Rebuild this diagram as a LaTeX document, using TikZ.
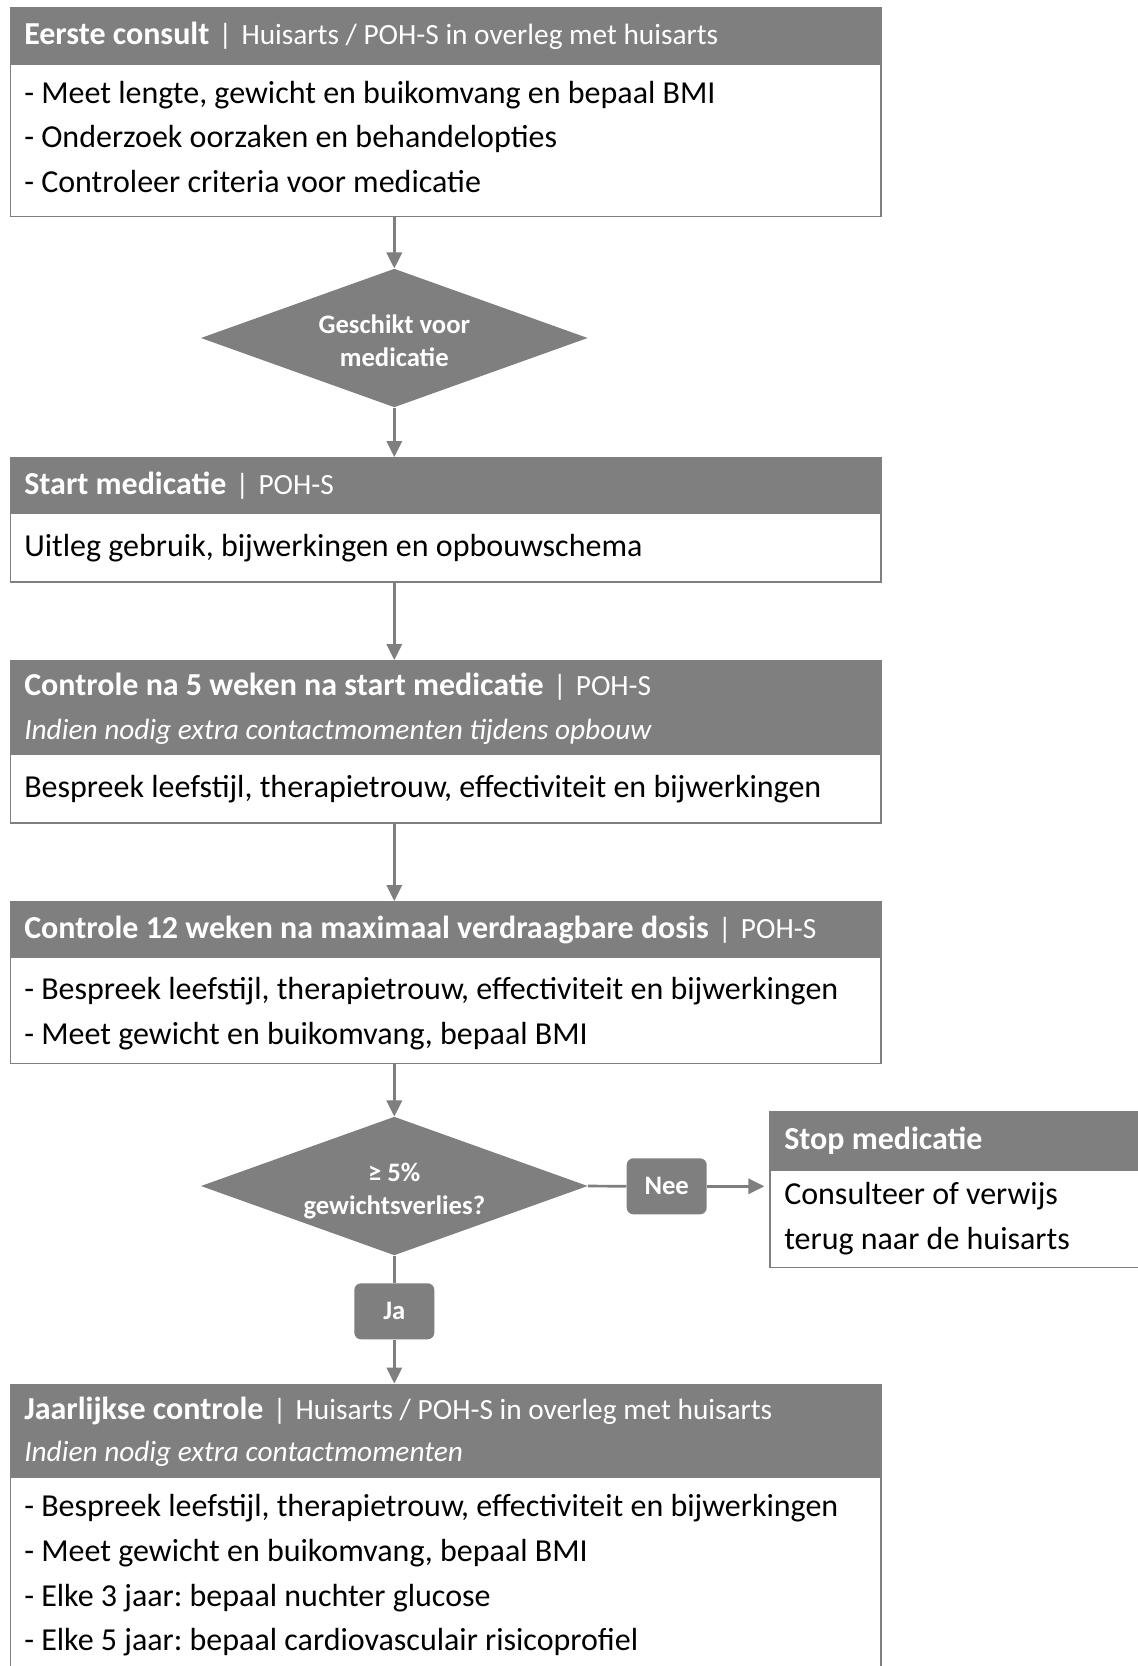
\documentclass[tikz,border=0pt]{standalone}
\usepackage{fontspec}
\setmainfont{Carlito}
\usetikzlibrary{arrows.meta,shapes.geometric}
\definecolor{fg}{HTML}{7F7F7F}
\frenchspacing
\tikzset{
 hdr/.style={draw=fg, fill=fg, line width=1.2pt, anchor=north west, inner sep=0, minimum width=652.8pt},
 bodybox/.style={draw=fg, fill=white, line width=1.2pt, anchor=north west, inner sep=0, minimum width=652.8pt},
 htxt/.style={anchor=base west, inner sep=0, yshift=-1.5pt, text=white, font=\bfseries\fontsize{24}{28}\selectfont},
 itxt/.style={anchor=base west, inner sep=0, yshift=-1.5pt, text=white, font=\itshape\fontsize{22}{26}\selectfont},
 btxt/.style={anchor=base west, inner sep=0, yshift=-1.5pt, text=black, font=\fontsize{24}{28}\selectfont},
 dia/.style={diamond, aspect=2.79, fill=fg, inner sep=0, minimum width=290.1pt, minimum height=103.9pt},
 dtxt/.style={inner sep=0, text=white, font=\bfseries\fontsize{20}{24.4}\selectfont, align=center},
 lbl/.style={rounded corners=5pt, fill=fg, inner sep=0, minimum width=60pt, minimum height=42pt, text=white, font=\bfseries\fontsize{20}{24}\selectfont},
 conn/.style={draw=fg, line width=2pt},
 arr/.style={conn, -{Triangle[length=12pt,width=11.5pt]}},
}
\newcommand\hreg[1]{{\mdseries\fontsize{22}{26}\selectfont\hspace{7pt}|\hspace{7pt}#1}}
\begin{document}
\begin{tikzpicture}[x=0.75pt,y=-0.75pt]
\useasboundingbox (0,0) rectangle (1138,1666);
\clip (0,0) rectangle (1138,1666);
\fill[white] (0,0) rectangle (1138,1666);

% Box 1
\node[bodybox, minimum height=114.2pt] (b1) at (9.6,63.5) {};
\node[hdr, minimum height=42.4pt] (h1) at (9.6,7) {};
\node[htxt] (t1) at (24,43) {Eerste consult\hreg{Huisarts / POH-S in overleg met huisarts}};
\node[btxt] (t1a) at (24,101.5) {- Meet lengte, gewicht en buikomvang en bepaal BMI};
\node[btxt] (t1b) at (24,146) {- Onderzoek oorzaken en behandelopties};
\node[btxt] (t1c) at (24,190.7) {- Controleer criteria voor medicatie};

% Diamond 1
\node[dia] (d1) at (394.3,338) {};
\node[dtxt] (d1t) at (394.3,340.5) {Geschikt voor\\medicatie};

% Box 2
\node[bodybox, minimum height=51.75pt] (b2) at (9.6,512.2) {};
\node[hdr, minimum height=41.4pt] (h2) at (9.6,457) {};
\node[htxt] (t2) at (24,492.5) {Start medicatie\hreg{POH-S}};
\node[btxt] (t2a) at (24,554) {Uitleg gebruik, bijwerkingen en opbouwschema};

% Box 3
\node[bodybox, minimum height=51.8pt] (b3) at (9.6,753.4) {};
\node[hdr, minimum height=70pt] (h3) at (9.6,660) {};
\node[htxt] (t3) at (24,693.3) {Controle na 5 weken na start medicatie\hreg{POH-S}};
\node[itxt] (t3i) at (24,737) {Indien nodig extra contactmomenten tijdens opbouw};
\node[btxt] (t3a) at (24,795.3) {Bespreek leefstijl, therapietrouw, effectiviteit en bijwerkingen};

% Box 4
\node[bodybox, minimum height=79.7pt] (b4) at (9.6,956.3) {};
\node[hdr, minimum height=41.5pt] (h4) at (9.6,901) {};
\node[htxt] (t4) at (24,936.7) {Controle 12 weken na maximaal verdraagbare dosis\hreg{POH-S}};
\node[btxt] (t4a) at (24,997.2) {- Bespreek leefstijl, therapietrouw, effectiviteit en bijwerkingen};
\node[btxt] (t4b) at (24,1042) {- Meet gewicht en buikomvang, bepaal BMI};

% Diamond 2
\node[dia] (d2) at (394.3,1186) {};
\node[dtxt] (d2t) at (394.3,1191) {≥ 5\%\\gewichtsverlies?};

% Nee / Ja labels
\node[lbl] (nee) at (666.7,1186.3) {Nee};
\node[lbl] (ja) at (394.3,1311.3) {Ja};

% Stop box
\node[bodybox, minimum width=300pt, minimum height=73.3pt] (bs) at (769.3,1169) {};
\node[hdr, minimum width=300pt, minimum height=43.5pt] (hs) at (769.3,1111) {};
\node[htxt] (ts) at (784,1147) {Stop medicatie};
\node[btxt] (tsa) at (784,1202.3) {Consulteer of verwijs};
\node[btxt] (tsb) at (784,1247) {terug naar de huisarts};

% Box 5
\node[bodybox, minimum height=187.5pt] (b5) at (9.6,1476) {};
\node[hdr, minimum height=69.4pt] (h5) at (9.6,1383.5) {};
\node[htxt] (t5) at (24,1417) {Jaarlijkse controle\hreg{Huisarts / POH-S in overleg met huisarts}};
\node[itxt] (t5i) at (24,1459.4) {Indien nodig extra contactmomenten};
\node[btxt] (t5a) at (24,1514.7) {- Bespreek leefstijl, therapietrouw, effectiviteit en bijwerkingen};
\node[btxt] (t5b) at (24,1559.3) {- Meet gewicht en buikomvang, bepaal BMI};
\node[btxt] (t5c) at (24,1604) {- Elke 3 jaar: bepaal nuchter glucose};
\node[btxt] (t5d) at (24,1648.6) {- Elke 5 jaar: bepaal cardiovasculair risicoprofiel};

% Connectors
\draw[arr] (d1.north |- b1.south) -- (d1.north);
\draw[arr] (d1.south) -- (d1.south |- h2.north);
\draw[arr] (d1.south |- b2.south) -- (d1.south |- h3.north);
\draw[arr] (d1.south |- b3.south) -- (d1.south |- h4.north);
\draw[arr] (d2.north |- b4.south) -- (d2.north);
\draw[conn] (d2.east) -- (nee.west);
\draw[arr, shorten >=3.75pt] (nee.east) -- (nee.east -| hs.west);
\draw[conn] (d2.south) -- (ja.north);
\draw[arr] (ja.south) -- (ja.south |- h5.north);
\end{tikzpicture}
\end{document}
